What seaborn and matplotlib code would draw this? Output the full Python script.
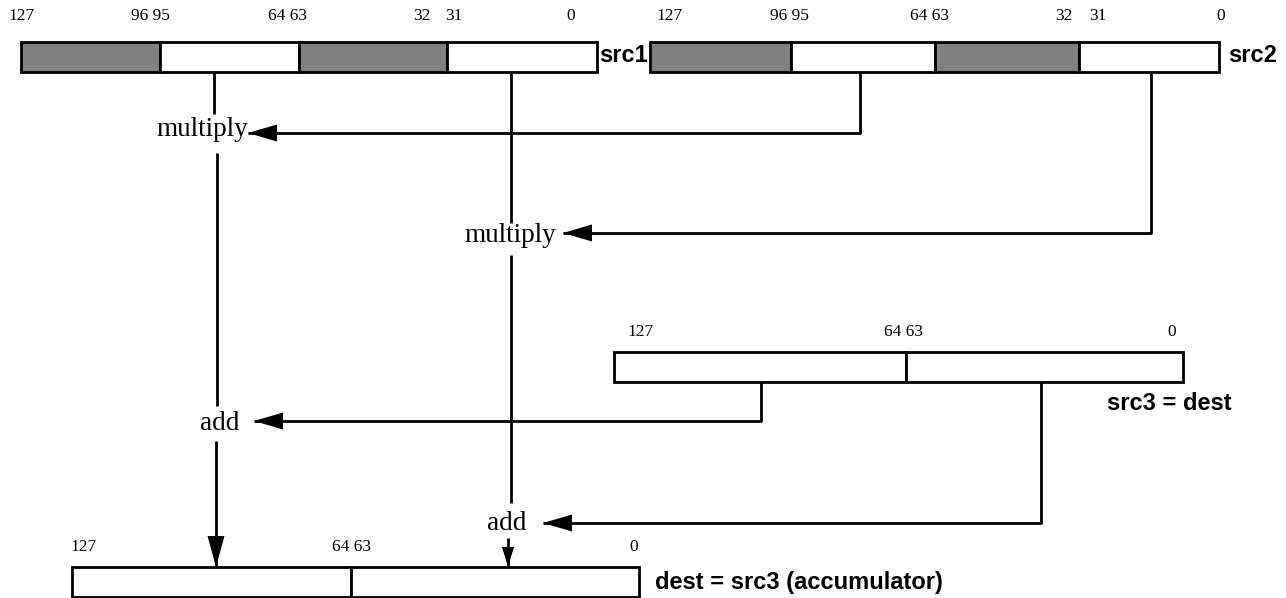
import matplotlib.pyplot as plt
import seaborn as sns
from matplotlib.patches import Rectangle, Polygon

sns.set_theme(style="white")
plt.rcParams['font.family'] = ['Liberation Serif', 'DejaVu Serif']
plt.rcParams['text.color'] = 'black'

# register contents (bit labels and lane shading, high lane first)
src1_bits = ["127", "96 95", "64 63", "32", "31", "0"]
src2_bits = ["127", "96 95", "64 63", "32", "31", "0"]
src3_bits = ["127", "64 63", "0"]
dest_bits = ["127", "64 63", "0"]
packed_shade = [True, False, True, False]
wide_shade = [False, False]
reg_names = ["src1", "src2", "src3 = dest", "dest = src3 (accumulator)"]
ops = ["multiply", "multiply", "add", "add"]

# layout in pixel space: lane edges, top y, label x/y
GRAY = "#808080"
H = 30
layout = {
    "src1": dict(edges=[21, 160, 299, 447, 597], top=42,
                 lab_x=[22, 150, 288, 422, 454, 571], lab_y=16),
    "src2": dict(edges=[650, 791, 935, 1079, 1219], top=42,
                 lab_x=[670, 789, 930, 1064, 1098, 1221], lab_y=16),
    "src3": dict(edges=[614, 906, 1183], top=352,
                 lab_x=[641, 904, 1172], lab_y=332),
    "dest": dict(edges=[72, 351, 639], top=567,
                 lab_x=[84, 351, 634], lab_y=547),
}

fig = plt.figure(figsize=(12.86, 5.98), dpi=100)
ax = fig.add_axes([0, 0, 1, 1])
ax.set_xlim(0, 1286)
ax.set_ylim(598, 0)
ax.axis('off')

LW = 2.0


def draw_register(key, shade, labels):
    lay = layout[key]
    e = lay["edges"]
    for i in range(len(e) - 1):
        ax.add_patch(Rectangle((e[i], lay["top"]), e[i + 1] - e[i], H,
                               facecolor=GRAY if shade[i] else "white",
                               edgecolor="black", lw=LW, zorder=2))
    for x, t in zip(lay["lab_x"], labels):
        ax.text(x, lay["lab_y"], t, ha='center', va='center', fontsize=12.5)


draw_register("src1", packed_shade, src1_bits)
draw_register("src2", packed_shade, src2_bits)
draw_register("src3", wide_shade, src3_bits)
draw_register("dest", wide_shade, dest_bits)

bold = dict(family=['Liberation Sans', 'DejaVu Sans'], fontweight='bold',
            fontsize=17, va='center')
ax.text(599, 56, reg_names[0], ha='left', **bold)
ax.text(1228, 56, reg_names[1], ha='left', **bold)
ax.text(1169, 404, reg_names[2], ha='center', **bold)
ax.text(655, 583, reg_names[3], ha='left', **bold)

# operation nodes
op_pos = [(202, 130), (510, 235), (220, 424), (507, 524)]
for (x, y), t in zip(op_pos, ops):
    ax.text(x, y, t, ha='center', va='center', fontsize=19.5)


def path(pts, head=True, L=29, W=8.5):
    xs, ys = zip(*pts)
    ax.plot(xs, ys, color='black', lw=LW, solid_capstyle='butt', zorder=1)
    if head:
        (x0, y0), (x1, y1) = pts[-2], pts[-1]
        if x0 == x1:
            s = 1 if y1 > y0 else -1
            tri = [(x1, y1), (x1 - W, y1 - s * L), (x1 + W, y1 - s * L)]
        else:
            s = 1 if x1 > x0 else -1
            tri = [(x1, y1), (x1 - s * L, y1 - W), (x1 - s * L, y1 + W)]
        ax.add_patch(Polygon(tri, closed=True, color='black', lw=0, zorder=3))


# src1 lanes down to the multipliers
path([(214, 71), (214, 114)], head=False)
path([(511, 71), (511, 223)], head=False)
# src2 lanes across to the multipliers
path([(860, 71), (860, 133), (248, 133)])
path([(1151, 71), (1151, 233), (563, 233)])
# multiplier products down to the adders / dest
path([(217, 153), (217, 406)], head=False)
path([(216, 441), (216, 567)], L=31)
path([(511, 255), (511, 503)], head=False)
path([(508, 538), (508, 567)], L=20, W=6)
# src3 lanes across to the adders
path([(761, 382), (761, 421), (254, 421)])
path([(1041, 382), (1041, 523), (543, 523)])

plt.savefig('out.png', dpi=100)
